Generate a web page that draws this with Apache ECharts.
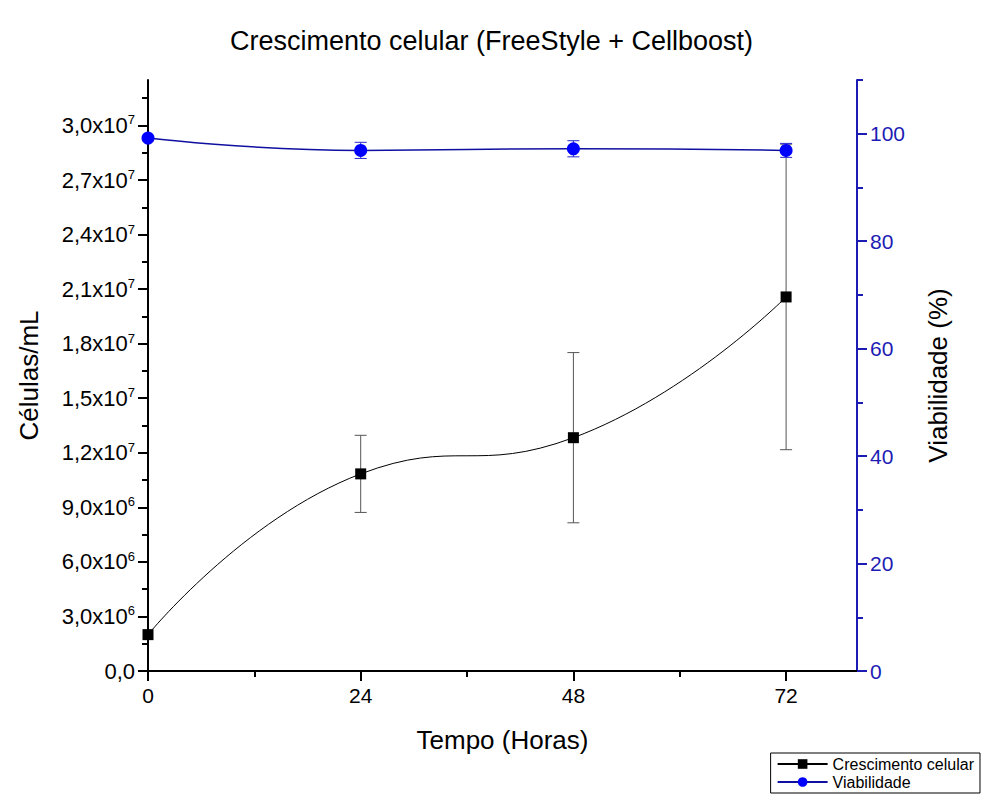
<!DOCTYPE html>
<html><head><meta charset="utf-8">
<script src="https://cdn.jsdelivr.net/npm/echarts@6/dist/echarts.min.js"></script>
<style>html,body{margin:0;padding:0;background:#fff}#c{width:983px;height:796px}</style>
</head><body><div id="c"></div>
<script>
const hours = [0, 24, 48, 72];
const cellDensity = [2.0e6, 1.084e7, 1.283e7, 2.057e7];
const cellDensityErr = [0, 2.12e6, 4.68e6, 8.4e6];
const viability = [99.2, 96.9, 97.2, 96.9];
const viabilityErr = [0, 1.5, 1.5, 1.3];
const xTicks = [0, 24, 48, 72];
const xMinorTicks = [12, 36, 60];
const leftTicks = [0, 3e6, 6e6, 9e6, 1.2e7, 1.5e7, 1.8e7, 2.1e7, 2.4e7, 2.7e7, 3.0e7];
const leftMinorTicks = [1.5e6, 4.5e6, 7.5e6, 1.05e7, 1.35e7, 1.65e7, 1.95e7, 2.25e7, 2.55e7, 2.85e7, 3.15e7];
const rightTicks = [0, 20, 40, 60, 80, 100];
const rightMinorTicks = [10, 30, 50, 70, 90, 110];

const FONT = 'Liberation Sans, Arial, sans-serif';
const BLUE_AX = '#1c1cb4';
const X_MAX = 80, L_MAX = 3.25e7, R_MAX = 110;
const GRID = { left: 148, right: 126, top: 80, bottom: 125, containLabel: false };

function sci(v) {
  if (v === 0) return '{b|0,0}';
  const e = Math.floor(Math.log10(v) + 1e-9);
  const m = (v / Math.pow(10, e)).toFixed(1).replace('.', ',');
  return '{b|' + m + 'x10}{s|' + e + '}';
}

function errRender(color, hw) {
  return function (params, api) {
    const x = api.value(0), y = api.value(1), e = api.value(2);
    const t = api.coord([x, y + e]), b = api.coord([x, y - e]);
    const st = { stroke: color, lineWidth: 1 };
    return { type: 'group', children: [
      { type: 'line', shape: { x1: t[0], y1: t[1], x2: b[0], y2: b[1] }, style: st },
      { type: 'line', shape: { x1: t[0] - hw, y1: t[1], x2: t[0] + hw, y2: t[1] }, style: st },
      { type: 'line', shape: { x1: b[0] - hw, y1: b[1], x2: b[0] + hw, y2: b[1] }, style: st }
    ]};
  };
}

const chart = echarts.init(document.getElementById('c'), null, { renderer: 'svg' });
const hidden = { axisLine: { show: false }, axisLabel: { show: false }, splitLine: { show: false } };
chart.setOption({
  animation: false,
  backgroundColor: '#fff',
  textStyle: { fontFamily: FONT },
  title: { text: 'Crescimento celular (FreeStyle + Cellboost)', left: 'center', top: 22,
    textStyle: { fontFamily: FONT, fontSize: 27, fontWeight: 'normal', color: '#000' } },
  grid: [GRID, Object.assign({}, GRID)],
  legend: {
    right: 3, bottom: 3, orient: 'vertical', itemGap: 2, padding: [3, 6],
    borderColor: '#000', borderWidth: 1, backgroundColor: '#fff',
    itemWidth: 50, itemHeight: 12,
    textStyle: { fontFamily: FONT, fontSize: 16, color: '#000' },
    data: ['Crescimento celular', 'Viabilidade']
  },
  xAxis: [
    { type: 'value', gridIndex: 0, min: 0, max: X_MAX, position: 'bottom',
      name: 'Tempo (Horas)', nameLocation: 'middle', nameGap: 56,
      nameTextStyle: { fontFamily: FONT, fontSize: 26, color: '#000' },
      axisLine: { show: true, onZero: false, lineStyle: { color: '#000', width: 2 } },
      axisTick: { show: true, length: 10, customValues: xTicks, lineStyle: { color: '#000', width: 2 } },
      axisLabel: { customValues: xTicks, margin: 14, fontFamily: FONT, fontSize: 21, color: '#000' },
      splitLine: { show: false } },
    Object.assign({ type: 'value', gridIndex: 1, min: 0, max: X_MAX, position: 'bottom',
      axisTick: { show: true, length: 6, customValues: xMinorTicks, lineStyle: { color: '#000', width: 2 } } }, hidden)
  ],
  yAxis: [
    { type: 'value', gridIndex: 0, min: 0, max: L_MAX, position: 'left',
      name: 'Células/mL', nameLocation: 'middle', nameGap: 106,
      nameTextStyle: { fontFamily: FONT, fontSize: 26, color: '#000' },
      axisLine: { show: true, onZero: false, lineStyle: { color: '#000', width: 2 } },
      axisTick: { show: true, length: 10, customValues: leftTicks, lineStyle: { color: '#000', width: 2 } },
      axisLabel: { customValues: leftTicks, margin: 13, formatter: sci,
        rich: { b: { fontFamily: FONT, fontSize: 22, color: '#000', lineHeight: 24 },
                s: { fontFamily: FONT, fontSize: 13, color: '#000', verticalAlign: 'top', lineHeight: 24, padding: [0, 0, 11, 0] } } },
      splitLine: { show: false } },
    { type: 'value', gridIndex: 0, min: 0, max: R_MAX, position: 'right',
      name: 'Viabilidade (%)', nameLocation: 'middle', nameGap: 68, nameRotate: 90,
      nameTextStyle: { fontFamily: FONT, fontSize: 26, color: '#000' },
      axisLine: { show: true, onZero: false, lineStyle: { color: BLUE_AX, width: 2 } },
      axisTick: { show: true, length: 10, customValues: rightTicks, lineStyle: { color: BLUE_AX, width: 2 } },
      axisLabel: { customValues: rightTicks, margin: 13, fontFamily: FONT, fontSize: 21, color: BLUE_AX },
      splitLine: { show: false } },
    Object.assign({ type: 'value', gridIndex: 1, min: 0, max: L_MAX, position: 'left',
      axisTick: { show: true, length: 6, customValues: leftMinorTicks, lineStyle: { color: '#000', width: 2 } } }, hidden),
    Object.assign({ type: 'value', gridIndex: 1, min: 0, max: R_MAX, position: 'right',
      axisTick: { show: true, length: 6, customValues: rightMinorTicks, lineStyle: { color: BLUE_AX, width: 2 } } }, hidden)
  ],
  series: [
    { type: 'custom', name: 'errCell', xAxisIndex: 0, yAxisIndex: 0, z: 2,
      renderItem: errRender('#555', 6),
      data: hours.map((h, i) => [h, cellDensity[i], cellDensityErr[i]]).filter(d => d[2] > 0) },
    { type: 'line', name: 'Crescimento celular', xAxisIndex: 0, yAxisIndex: 0, z: 3,
      smooth: 0.5, symbol: 'rect', symbolSize: 11,
      lineStyle: { color: '#000', width: 1 }, itemStyle: { color: '#000' },
      data: hours.map((h, i) => [h, cellDensity[i]]) },
    { type: 'custom', name: 'errVia', xAxisIndex: 0, yAxisIndex: 1, z: 4,
      renderItem: errRender('#2a2ad0', 6),
      data: hours.map((h, i) => [h, viability[i], viabilityErr[i]]).filter(d => d[2] > 0) },
    { type: 'line', name: 'Viabilidade', xAxisIndex: 0, yAxisIndex: 1, z: 5,
      smooth: 0.5, symbol: 'circle', symbolSize: 13,
      lineStyle: { color: '#1010a0', width: 1.5 }, itemStyle: { color: '#0000ff' },
      data: hours.map((h, i) => [h, viability[i]]) }
  ]
});
</script></body></html>
